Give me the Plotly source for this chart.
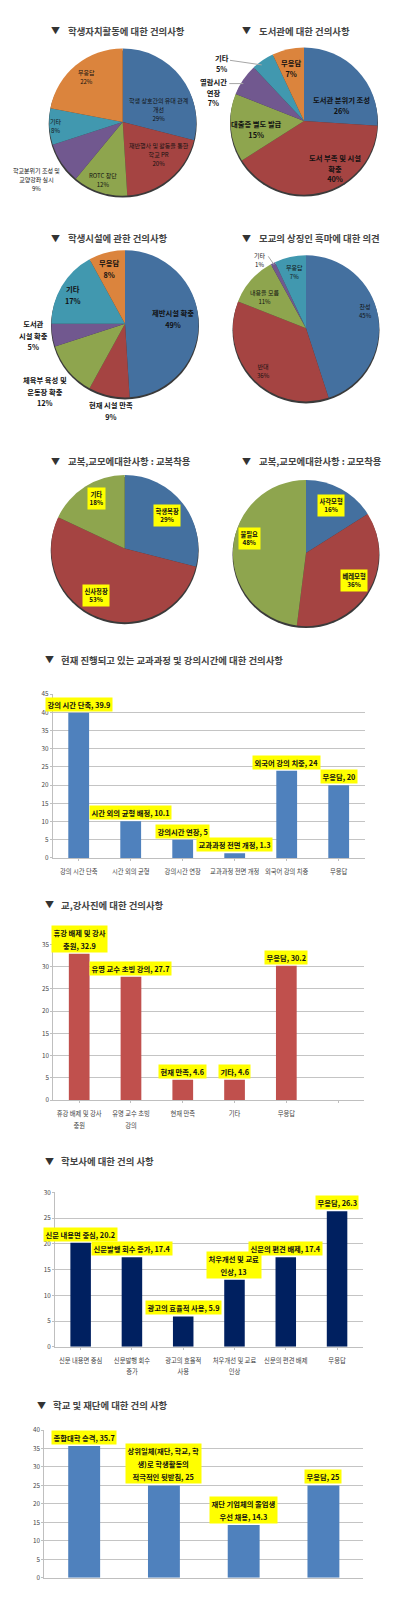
import plotly.graph_objects as go

W, H = 405, 1600
FONT = "Noto Sans CJK KR"
PIE_COLORS = ["#44709F", "#A54442", "#8EA54E", "#71588F", "#4198AF", "#DB843D"]

# ---------- data ----------
p1_labels = ["학생 상호간의 유대 관계<br>개선", "재반행사 및 활동을 통한<br>학교 PR", "ROTC 창단", "학교분위기 조성 및<br>교양강좌 실시", "기타", "무응답"]
p1_values = [29, 20, 12, 9, 8, 22]
p2_labels = ["도서관 분위기 조성", "도서 부족 및 시설<br>확충", "대출증 별도 발급", "열람시간<br>연장", "기타", "무응답"]
p2_values = [26, 40, 15, 7, 5, 7]
p3_labels = ["제반시설 확충", "현재 시설 만족", "체육부 육성 및<br>운동장 확충", "도서관<br>시설 확충", "기타", "무응답"]
p3_values = [49, 9, 12, 5, 17, 8]
p4_labels = ["찬성", "반대", "내용을 모름", "기타", "무응답"]
p4_values = [45, 36, 11, 1, 7]
p5_labels = ["학생복장", "신사정장", "기타"]
p5_values = [29, 53, 18]
p6_labels = ["사각모형", "베레모형", "불필요"]
p6_values = [16, 36, 48]

b1_cats = ["강의 시간 단축", "시간 외의 균형", "강의시간 연장", "교과과정 전면 개정", "외국어 강의 치중", "무응답"]
b1_labels = ["강의 시간 단축", "시간 외의 균형 배정", "강의시간 연장", "교과과정 전면 개정", "외국어 강의 치중", "무응답"]
b1_values = [39.9, 10.1, 5, 1.3, 24, 20]
b2_cats = ["휴강 배제 및 강사<br>충원", "유명 교수 초빙<br>강의", "현재 만족", "기타", "무응답", " "]
b2_labels = ["휴강 배제 및 강사<br>충원", "유명 교수 초빙 강의", "현재 만족", "기타", "무응답", None]
b2_values = [32.9, 27.7, 4.6, 4.6, 30.2, None]
b3_cats = ["신문 내용면 중심", "신문발행 회수<br>증가", "광고의 효율적<br>사용", "처우개선 및 교료<br>인상", "신문의 편견 배제", "무응답"]
b3_labels = ["신문 내용면 중심", "신문발행 회수 증가", "광고의 효율적 사용", "처우개선 및 교료<br>인상", "신문의 편견 배제", "무응답"]
b3_values = [20.2, 17.4, 5.9, 13, 17.4, 26.3]
b4_cats = ["종합대학 승격", "상위일체", "재단 기업체", "무응답"]
b4_labels = ["종합대학 승격", "상위일체(재단, 학교, 학<br>생)로 학생활동의<br>적극적인 뒷받침", "재단 기업체의 졸업생<br>우선 채용", "무응답"]
b4_values = [35.7, 25, 14.3, 25]

titles = ["학생자치활동에 대한 건의사항", "도서관에 대한 건의사항", "학생시설에 관한 건의사항", "모교의 상징인 흑마에 대한 의견",
          "교복,교모에대한사항 : 교복착용", "교복,교모에대한사항 : 교모착용",
          "현재 진행되고 있는 교과과정 및 강의시간에 대한 건의사항", "교,강사진에 대한 건의사항",
          "학보사에 대한 건의 사항", "학교 및 재단에 대한 건의 사항"]

# ---------- layout constants (pixels) ----------
pie_geo = [(122.7, 120.5, 74), (304, 119.5, 74), (125, 322.5, 74), (306, 327, 73.5), (124.7, 547.5, 74), (306, 552, 73.5)]
pie_data = [(p1_labels, p1_values), (p2_labels, p2_values), (p3_labels, p3_values),
            (p4_labels, p4_values), (p5_labels, p5_values), (p6_labels, p6_values)]
title_pos = [(66, 29), (257, 29), (66, 237), (257, 237), (66, 460), (257, 460), (59, 659), (59, 904), (59, 1161), (51, 1405)]
tri_pos = [(56, 29), (247, 29), (56, 237), (247, 237), (56, 460), (247, 460), (49, 659), (49, 904), (49, 1161), (41, 1405)]

pie_text_pos = [
    [(158.7, 107.5), (158.5, 153), (102.7, 179), (36.7, 178), (55.7, 124), (86, 75)],
    [(341.7, 103.5), (335, 167.5), (256.7, 127.5), (213, 90.5), (222.3, 61.5), (291, 66.5)],
    [(173.3, 318), (110.7, 410), (45, 390), (33.3, 334), (72.7, 294), (109.3, 268)],
    [(365.7, 309.7), (263.3, 370), (264, 296), (260, 258.7), (294, 270.7)],
    [(167.3, 514), (95.7, 594.3), (96.3, 497)],
    [(331, 504), (353.7, 579.7), (249.3, 537.7)],
]
pie_text_size = [(6, 8.8), (7.3, 10.5), (7.3, 11.5), (6, 8.6), (6.3, 8.7), (6.3, 8.7)]
pie_bold = [False, True, True, False, True, True]
pie_boxed = [False, False, False, False, True, True]
leaders = [(230, 58.7, 261.7, 63.3), (229.3, 82, 243.3, 82), (268.3, 255, 274, 263.3)]

bar_geo = [
    (52.7, 364.7, 693.3, 857.3, 45, "#4F81BD", b1_cats, b1_labels, b1_values, True),
    (53.3, 364, 943.7, 1099.7, 35, "#C0504D", b2_cats, b2_labels, b2_values, True),
    (55, 362.7, 1192, 1346.7, 30, "#002060", b3_cats, b3_labels, b3_values, True),
    (44.3, 363.3, 1430, 1578, 40, "#4F81BD", b4_cats, b4_labels, b4_values, False),
]


def yc(y):
    """Small vertical calibration of read-off pixel rows."""
    return y - 3.2 + 0.0045 * (y - 30)


def px(x, y):
    return x / W, 1 - yc(y) / H


def sized(text, size, bold=False):
    parts = []
    for line in text.split("<br>"):
        inner = f"<b>{line}</b>" if bold else line
        parts.append(f'<span style="font-size:{size}px">{inner}</span>')
    return "<br>".join(parts)


fig = go.Figure()
shapes, anns = [], []


def note(x, y, text, base, color="#111111", **kw):
    xp, yp = px(x, y)
    anns.append(dict(x=xp, y=yp, xref="paper", yref="paper", text=text, showarrow=False,
                     font=dict(family=FONT, size=base, color=color), align="center",
                     xanchor=kw.pop("xanchor", "center"), yanchor="middle", **kw))


for i, ((cx, cy, r), (labs, vals)) in enumerate(zip(pie_geo, pie_data)):
    x0 = (cx - r) / W
    x1 = (cx + r) / W
    yc_mid = yc(cy)
    y0 = 1 - (yc_mid + r) / H
    y1 = 1 - (yc_mid - r) / H
    shapes.append(dict(type="circle", xref="paper", yref="paper", layer="below",
                       x0=x0, x1=x1, y0=y0 - 2 / H, y1=y1 - 2 / H,
                       fillcolor="#3A3A3A", line=dict(width=0)))
    fig.add_trace(go.Pie(values=vals, labels=[l.replace("<br>", " ") for l in labs], sort=False, direction="clockwise",
                         rotation=0, textinfo="none", showlegend=False,
                         marker=dict(colors=PIE_COLORS[:len(vals)], line=dict(width=0)),
                         domain=dict(x=[x0, x1], y=[y0, y1])))
    glyph, spacing = pie_text_size[i]
    for (tx, ty), l, v in zip(pie_text_pos[i], labs, vals):
        t = sized(f"{l}<br>{v}%", glyph, pie_bold[i])
        if pie_boxed[i]:
            note(tx, ty, t, spacing / 1.3, bgcolor="#FFFF00", borderpad=1.5)
        else:
            note(tx, ty, t, spacing / 1.3)

for (a, b, c, d) in leaders:
    xa, ya = px(a, b)
    xb, yb = px(c, d)
    shapes.append(dict(type="line", xref="paper", yref="paper", x0=xa, y0=ya, x1=xb, y1=yb,
                       line=dict(color="#A6A6A6", width=1)))

layout_axes = {}
for i, (xl, xr, yt, yb, ymax, col, cats, labs, vals, show_x) in enumerate(bar_geo):
    n = i + 1
    xname, yname = f"x{n}", f"y{n}"
    fig.add_trace(go.Bar(x=list(range(len(cats))), y=vals, marker=dict(color=col, line=dict(width=0)),
                         width=0.4, xaxis=xname, yaxis=yname, showlegend=False))
    layout_axes[f"xaxis{n}"] = dict(domain=[xl / W, xr / W], anchor=yname, range=[-0.5, len(cats) - 0.5],
                                    tickmode="array", tickvals=list(range(len(cats))),
                                    ticktext=[sized(c, 6.3) for c in cats] if show_x else [""] * len(cats),
                                    tickson="boundaries", ticks="outside" if show_x else "", ticklen=2, tickcolor="#BFBFBF",
                                    ticklabelstandoff=2,
                                    showgrid=False, showline=True, linecolor="#BFBFBF", linewidth=1,
                                    tickfont=dict(family=FONT, size=9, color="#444444"), tickangle=0,
                                    fixedrange=True, zeroline=False)
    layout_axes[f"yaxis{n}"] = dict(domain=[1 - yc(yb) / H, 1 - yc(yt) / H], anchor=xname, range=[0, ymax], dtick=5,
                                    showgrid=True, gridcolor="#C4C4C4", gridwidth=1.2, showline=True,
                                    linecolor="#BFBFBF", linewidth=1, ticks="outside", ticklen=2, tickcolor="#BFBFBF",
                                    tickfont=dict(family=FONT, size=6.3, color="#444444"),
                                    fixedrange=True, zeroline=False)
    for j, (l, v) in enumerate(zip(labs, vals)):
        if l is None:
            continue
        anns.append(dict(x=j, y=v, xref=xname, yref=yname, text=sized(f"{l}, {v:g}", 7.3, True), showarrow=False,
                         yanchor="bottom", xanchor="center", yshift=1, align="center", bgcolor="#FFFF00", borderpad=1.5,
                         font=dict(family=FONT, size=10, color="#111111")))

for t, (x, y), (tx, ty) in zip(titles, title_pos, tri_pos):
    note(x, y, f"<b>{t}</b>", 9.4, color="#444444", xanchor="left")
    note(tx, ty, "▼", 9, color="#333333")

fig.update_layout(width=W, height=H, margin=dict(l=0, r=0, t=0, b=0), paper_bgcolor="white", plot_bgcolor="white",
                  shapes=shapes, annotations=anns, bargap=0.6, **layout_axes)
fig.write_html("out.html", config=dict(displayModeBar=False),
               post_script="document.body.style.margin='0';")
